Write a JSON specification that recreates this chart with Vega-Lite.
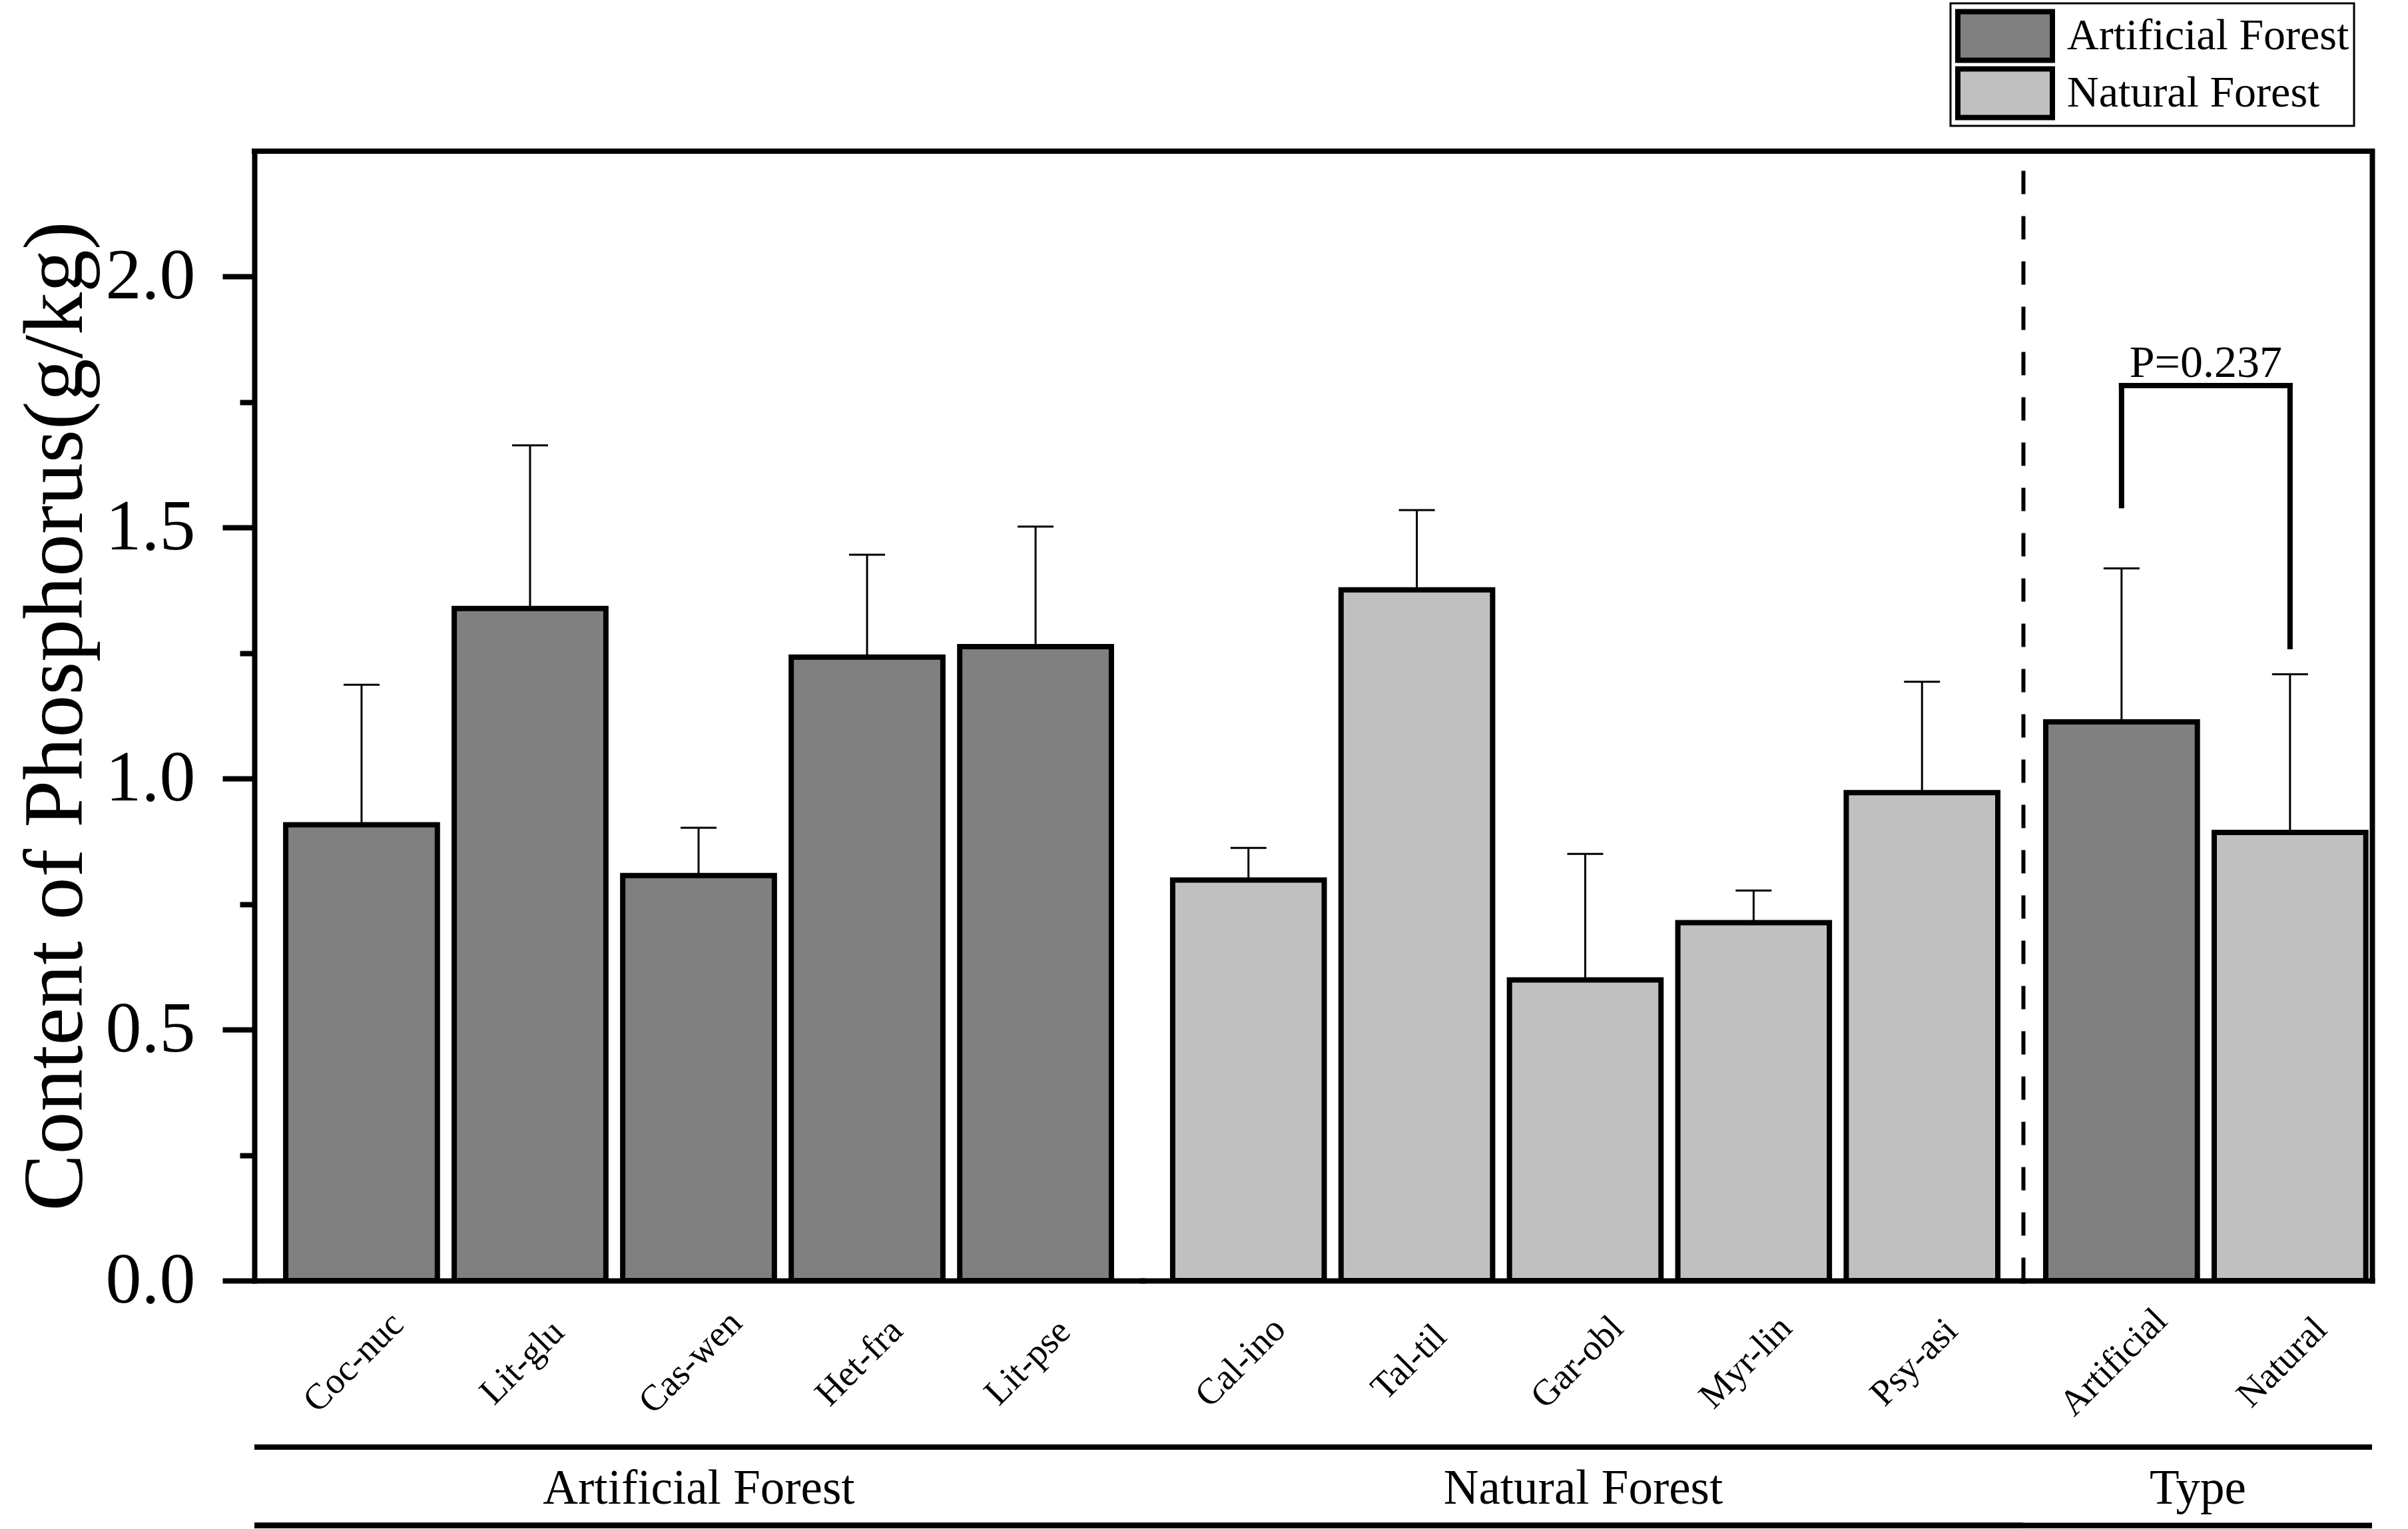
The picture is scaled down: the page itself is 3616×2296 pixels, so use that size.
{
  "$schema": "https://vega.github.io/schema/vega-lite/v6.json",
  "autosize": {"type": "none"},
  "padding": {"left": 382, "top": 227, "right": 3234, "bottom": 2069},
  "background": "white",
  "datasets": {
    "bars": [
      {"label": "Coc-nuc", "group": "Artificial Forest", "forest": "Artificial Forest", "mean": 0.908, "upper": 1.187},
      {"label": "Lit-glu", "group": "Artificial Forest", "forest": "Artificial Forest", "mean": 1.339, "upper": 1.664},
      {"label": "Cas-wen", "group": "Artificial Forest", "forest": "Artificial Forest", "mean": 0.807, "upper": 0.902},
      {"label": "Het-fra", "group": "Artificial Forest", "forest": "Artificial Forest", "mean": 1.242, "upper": 1.446},
      {"label": "Lit-pse", "group": "Artificial Forest", "forest": "Artificial Forest", "mean": 1.263, "upper": 1.502},
      {"label": "Cal-ino", "group": "Natural Forest", "forest": "Natural Forest", "mean": 0.798, "upper": 0.862},
      {"label": "Tal-til", "group": "Natural Forest", "forest": "Natural Forest", "mean": 1.376, "upper": 1.535},
      {"label": "Gar-obl", "group": "Natural Forest", "forest": "Natural Forest", "mean": 0.599, "upper": 0.850},
      {"label": "Myr-lin", "group": "Natural Forest", "forest": "Natural Forest", "mean": 0.713, "upper": 0.777},
      {"label": "Psy-asi", "group": "Natural Forest", "forest": "Natural Forest", "mean": 0.972, "upper": 1.193},
      {"label": "Artificial", "group": "Type", "forest": "Artificial Forest", "mean": 1.113, "upper": 1.419},
      {"label": "Natural", "group": "Type", "forest": "Natural Forest", "mean": 0.893, "upper": 1.208}
    ],
    "bracket": [
      {"from": "Artificial", "to": "Artificial", "low": 1.544, "high": 1.783},
      {"from": "Natural", "to": "Natural", "low": 1.263, "high": 1.783},
      {"from": "Artificial", "to": "Natural", "low": 1.783, "high": 1.783}
    ],
    "pvalue": [
      {"at": "Artificial", "y": 1.80, "text": "P=0.237"}
    ]
  },
  "spacing": 0,
  "bounds": "flush",
  "resolve": {"scale": {"x": "independent", "y": "independent", "color": "independent"}, "legend": {"color": "independent"}},
  "hconcat": [
    {
      "width": 1334, "height": 1696,
      "data": {"name": "bars"},
      "transform": [{"filter": "datum.group === 'Artificial Forest'"}],
      "layer": [
        {
          "mark": {"type": "bar", "stroke": "black", "strokeWidth": 8},
          "encoding": {
            "x": {"field": "label", "type": "nominal", "sort": null,
              "scale": {"type": "band", "domain": ["Coc-nuc", "Lit-glu", "Cas-wen", "Het-fra", "Lit-pse"], "paddingInner": 0.1, "paddingOuter": 0.186},
              "axis": {"orient": "bottom", "title": "Artificial Forest", "titleFontSize": 73, "titleY": 334, "titleBaseline": "alphabetic",
                "ticks": false, "tickSize": 0, "labelAngle": -45, "labelAlign": "center", "labelBaseline": "middle", "labelPadding": 122, "labelOffset": -12,
                "labelFontSize": 55, "labelLimit": 0, "domainWidth": 8, "domainCap": "square", "labelOverlap": false, "labelBound": false}},
            "y": {"field": "mean", "type": "quantitative",
              "scale": {"domain": [0, 2.25], "nice": false},
              "axis": {"orient": "left", "values": [0, 0.25, 0.5, 0.75, 1, 1.25, 1.5, 1.75, 2],
                "labelExpr": "datum.value % 0.5 == 0 ? format(datum.value, '.1f') : ''",
                "tickSize": {"condition": {"test": "datum.value % 0.5 != 0", "value": 22}, "value": 48},
                "tickWidth": 8, "domainWidth": 8, "domainCap": "square", "labelFontSize": 108, "labelPadding": 41, "labelOverlap": false,
                "title": "Content of Phosphorus(g/kg)", "titleFontSize": 128, "titleX": -260, "titleY": 848,
                "titleBaseline": "alphabetic", "titleAngle": -90, "titleAlign": "center"}},
            "color": {"field": "forest", "type": "nominal",
              "scale": {"domain": ["Artificial Forest", "Natural Forest"], "range": ["#808080", "#c0c0c0"]},
              "legend": {"orient": "none", "legendX": 2547, "legendY": -222, "title": null,
                "symbolType": "M-1,-0.514H1V0.514H-1Z", "symbolSize": 20164, "symbolStrokeColor": "black", "symbolStrokeWidth": 8,
                "symbolOpacity": 1, "clipHeight": 84, "rowPadding": 2, "labelOffset": 18, "labelFontSize": 66, "labelLimit": 0,
                "padding": 7, "strokeColor": "black", "fillColor": "white"}}
          }
        },
        {
          "mark": {"type": "rule", "color": "black", "strokeWidth": 3},
          "encoding": {
            "x": {"field": "label", "type": "nominal", "sort": null},
            "y": {"field": "mean", "type": "quantitative"},
            "y2": {"field": "upper"}
          }
        },
        {
          "mark": {"type": "tick", "color": "black", "thickness": 3, "size": 54, "opacity": 1},
          "encoding": {
            "x": {"field": "label", "type": "nominal", "sort": null},
            "y": {"field": "upper", "type": "quantitative"}
          }
        },
        {"mark": {"type": "rule", "color": "black", "strokeWidth": 8, "strokeCap": "square"}, "encoding": {"y": {"datum": 2.25}}},
        {"mark": {"type": "rule", "color": "black", "strokeWidth": 8}, "encoding": {"y": {"datum": -0.3316}}},
        {"mark": {"type": "rule", "color": "black", "strokeWidth": 8}, "encoding": {"y": {"datum": -0.488}}}
      ]
    },
    {
      "width": 1322, "height": 1696,
      "data": {"name": "bars"},
      "transform": [{"filter": "datum.group === 'Natural Forest'"}],
      "layer": [
        {
          "mark": {"type": "bar", "stroke": "black", "strokeWidth": 8},
          "encoding": {
            "x": {"field": "label", "type": "nominal", "sort": null,
              "scale": {"type": "band", "domain": ["Cal-ino", "Tal-til", "Gar-obl", "Myr-lin", "Psy-asi"], "paddingInner": 0.1, "paddingOuter": 0.164, "align": 0.542},
              "axis": {"orient": "bottom", "title": "Natural Forest", "titleFontSize": 73, "titleY": 334, "titleBaseline": "alphabetic",
                "ticks": false, "tickSize": 0, "labelAngle": -45, "labelAlign": "center", "labelBaseline": "middle", "labelPadding": 122, "labelOffset": -12,
                "labelFontSize": 55, "labelLimit": 0, "domainWidth": 8, "domainCap": "square", "labelOverlap": false, "labelBound": false}},
            "y": {"field": "mean", "type": "quantitative",
              "scale": {"domain": [0, 2.25], "nice": false},
              "axis": {"orient": "right", "labels": false, "ticks": false, "title": null, "domainWidth": 6, "domainDash": [35, 33]}},
            "color": {"field": "forest", "type": "nominal",
              "scale": {"domain": ["Artificial Forest", "Natural Forest"], "range": ["#808080", "#c0c0c0"]}, "legend": null}
          }
        },
        {
          "mark": {"type": "rule", "color": "black", "strokeWidth": 3},
          "encoding": {
            "x": {"field": "label", "type": "nominal", "sort": null},
            "y": {"field": "mean", "type": "quantitative"},
            "y2": {"field": "upper"}
          }
        },
        {
          "mark": {"type": "tick", "color": "black", "thickness": 3, "size": 54, "opacity": 1},
          "encoding": {
            "x": {"field": "label", "type": "nominal", "sort": null},
            "y": {"field": "upper", "type": "quantitative"}
          }
        },
        {"mark": {"type": "rule", "color": "black", "strokeWidth": 8, "strokeCap": "square"}, "encoding": {"y": {"datum": 2.25}}},
        {"mark": {"type": "rule", "color": "black", "strokeWidth": 8}, "encoding": {"y": {"datum": -0.3316}}},
        {"mark": {"type": "rule", "color": "black", "strokeWidth": 8}, "encoding": {"y": {"datum": -0.488}}}
      ]
    },
    {
      "width": 524, "height": 1696,
      "data": {"name": "bars"},
      "transform": [{"filter": "datum.group === 'Type'"}],
      "layer": [
        {
          "mark": {"type": "bar", "stroke": "black", "strokeWidth": 8},
          "encoding": {
            "x": {"field": "label", "type": "nominal", "sort": null,
              "scale": {"type": "band", "domain": ["Artificial", "Natural"], "paddingInner": 0.1, "paddingOuter": 0.0856, "align": 0.785},
              "axis": {"orient": "bottom", "title": "Type", "titleFontSize": 73, "titleY": 334, "titleBaseline": "alphabetic",
                "ticks": false, "tickSize": 0, "labelAngle": -45, "labelAlign": "center", "labelBaseline": "middle", "labelPadding": 122, "labelOffset": -12,
                "labelFontSize": 55, "labelLimit": 0, "domainWidth": 8, "domainCap": "square", "labelOverlap": false, "labelBound": false}},
            "y": {"field": "mean", "type": "quantitative",
              "scale": {"domain": [0, 2.25], "nice": false},
              "axis": {"orient": "right", "labels": false, "ticks": false, "title": null, "domainWidth": 8, "domainCap": "square"}},
            "color": {"field": "forest", "type": "nominal",
              "scale": {"domain": ["Artificial Forest", "Natural Forest"], "range": ["#808080", "#c0c0c0"]}, "legend": null}
          }
        },
        {
          "mark": {"type": "rule", "color": "black", "strokeWidth": 3},
          "encoding": {
            "x": {"field": "label", "type": "nominal", "sort": null},
            "y": {"field": "mean", "type": "quantitative"},
            "y2": {"field": "upper"}
          }
        },
        {
          "mark": {"type": "tick", "color": "black", "thickness": 3, "size": 54, "opacity": 1},
          "encoding": {
            "x": {"field": "label", "type": "nominal", "sort": null},
            "y": {"field": "upper", "type": "quantitative"}
          }
        },
        {
          "data": {"name": "bracket"},
          "mark": {"type": "rule", "color": "black", "strokeWidth": 8, "strokeCap": "square"},
          "encoding": {
            "x": {"field": "from", "type": "nominal", "sort": null},
            "x2": {"field": "to"},
            "y": {"field": "low", "type": "quantitative"},
            "y2": {"field": "high"}
          }
        },
        {
          "data": {"name": "pvalue"},
          "mark": {"type": "text", "color": "black", "fontSize": 68, "baseline": "alphabetic", "align": "center"},
          "encoding": {
            "x": {"field": "at", "type": "nominal", "sort": null, "bandPosition": 1.0556},
            "y": {"field": "y", "type": "quantitative"},
            "text": {"field": "text"}
          }
        },
        {"mark": {"type": "rule", "color": "black", "strokeWidth": 8, "strokeCap": "square"}, "encoding": {"y": {"datum": 2.25}}},
        {"mark": {"type": "rule", "color": "black", "strokeWidth": 8}, "encoding": {"y": {"datum": -0.3316}}},
        {"mark": {"type": "rule", "color": "black", "strokeWidth": 8}, "encoding": {"y": {"datum": -0.488}}}
      ]
    }
  ],
  "config": {
    "font": "Liberation Serif",
    "view": {"stroke": null},
    "axis": {"grid": false, "labelColor": "black", "titleColor": "black", "domainColor": "black", "tickColor": "black",
      "titleFontWeight": "normal", "labelFont": "Liberation Serif", "titleFont": "Liberation Serif"},
    "legend": {"labelFont": "Liberation Serif", "labelColor": "black", "strokeWidth": 3},
    "text": {"font": "Liberation Serif"}
  }
}
